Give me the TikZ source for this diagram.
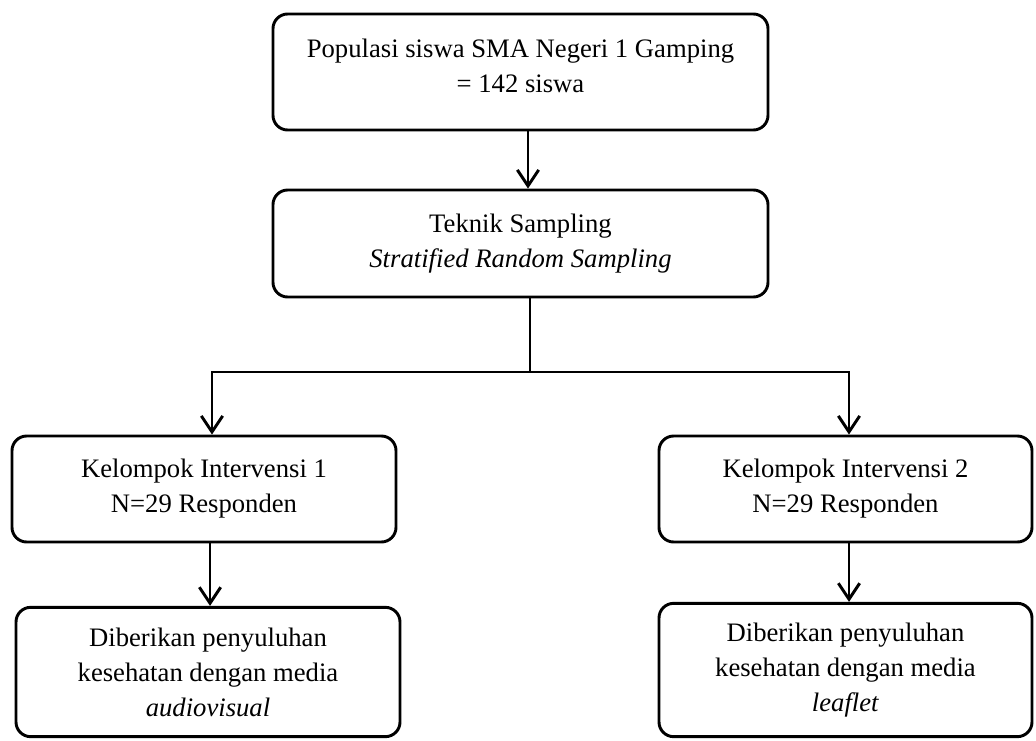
\documentclass[tikz,border=0pt]{standalone}
\usepackage{fontspec}
\setmainfont{Liberation Serif}
\usetikzlibrary{arrows.meta}
\tikzset{
  box/.style={draw=black, line width=2.2pt, rounded corners=11pt, inner sep=0pt},
  txt/.style={align=center, inner sep=0pt, font=\fontsize{20pt}{26.25pt}\selectfont},
  tip/.tip={Straight Barb[length=12pt,width=16pt,line width=2.2pt]},
  link/.style={line width=2.2pt, -tip},
  plain/.style={line width=2.2pt},
}
\begin{document}
\begin{tikzpicture}[x=0.75pt,y=-0.75pt]
\useasboundingbox (0,0) rectangle (1036,740);
% boxes
\node[box, minimum width=371.25pt, minimum height=87pt] (pop) at (520.5,72) {};
\node[txt] (popt) at (520.5,66) {Populasi siswa SMA Negeri 1 Gamping\\= 142 siswa};
\node[box, txt, minimum width=371.25pt, minimum height=80.25pt] (tek) at (520.5,243.5) {Teknik Sampling\\\textit{Stratified Random Sampling}};
\node[box, txt, minimum width=288pt, minimum height=79.5pt] (k1) at (204,489) {Kelompok Intervensi 1\\N=29 Responden};
\node[box, txt, minimum width=288pt, minimum height=97pt] (d1) at (208,672) {Diberikan penyuluhan\\kesehatan dengan media\\\textit{audiovisual}};
\node[box, txt, minimum width=279.75pt, minimum height=100pt] (d2) at (845.5,670) {Diberikan penyuluhan\\kesehatan dengan media\\\textit{leaflet}};
\node[box, txt, minimum width=279.75pt, minimum height=79.5pt] (k2) at (845.5,489) {Kelompok Intervensi 2\\N=29 Responden};
% connectors
\coordinate (a1) at (528,0);
\coordinate (j) at (530,372);
\coordinate (jl) at (212,372);
\coordinate (jr) at (849,372);
\coordinate (c1) at (210,0);
\coordinate (c2) at (849,0);
\draw[link] (pop.south -| a1) -- (tek.north -| a1);
\draw[plain] (tek.south -| j) -- (j);
\draw[plain, tip-tip, line join=miter]
  (k1.north -| jl) -- (jl) -- (jr) -- (k2.north -| jr);
\draw[link] (k1.south -| c1) -- (d1.north -| c1);
\draw[link] (k2.south -| c2) -- (d2.north -| c2);
\end{tikzpicture}
\end{document}
